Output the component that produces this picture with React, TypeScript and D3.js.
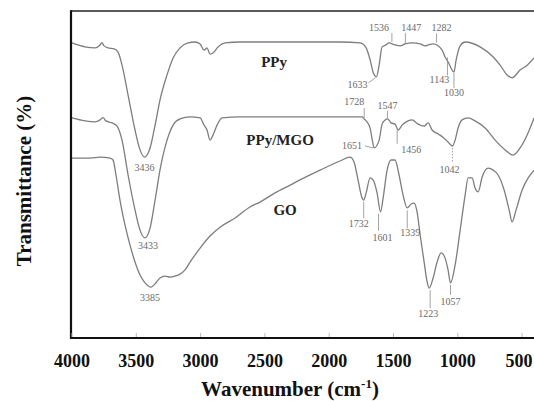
import * as d3 from "d3";

type Pt = [number, number]; // [wavenumber cm-1, transmittance (offset, a.u.)]

const ppy: Pt[] = [
  [4000, 90.5], [3899, 89.3], [3821, 89.0], [3782, 89.9], [3767, 90.6], [3751, 89.6],
  [3720, 89.0], [3673, 88.7], [3642, 87.7], [3611, 83.7], [3564, 74.5], [3510, 63.8],
  [3471, 57.7], [3436, 55.5], [3393, 58.3], [3354, 65.3], [3316, 73.0], [3261, 80.7],
  [3214, 85.9], [3160, 89.0], [3098, 90.5], [3043, 90.8], [3004, 90.2], [2973, 88.3],
  [2950, 89.0], [2927, 87.1], [2903, 87.4], [2864, 89.3], [2810, 90.5], [2693, 90.8],
  [2227, 90.8], [1916, 90.8], [1760, 90.5], [1713, 89.0], [1682, 85.3], [1659, 81.6],
  [1633, 80.1], [1612, 83.7], [1589, 89.3], [1558, 89.9], [1536, 90.5], [1488, 89.9],
  [1447, 89.6], [1410, 90.2], [1356, 90.5], [1293, 90.2], [1254, 89.6], [1230, 89.9],
  [1192, 90.2], [1122, 88.3], [1099, 86.2], [1076, 84.7], [1030, 81.6], [1013, 85.3],
  [982, 89.6], [943, 90.8], [827, 89.3], [725, 86.2], [671, 83.7], [617, 80.7],
  [578, 79.8], [516, 82.2], [461, 83.7], [407, 85.9],
];

const ppyMgo: Pt[] = [
  [4000, 67.5], [3899, 66.6], [3821, 66.3], [3782, 66.9], [3759, 67.6], [3736, 66.6],
  [3689, 66.0], [3650, 65.0], [3611, 60.7], [3564, 50.0], [3510, 39.3], [3471, 33.1],
  [3433, 30.7], [3393, 33.7], [3354, 42.3], [3316, 51.5], [3261, 60.7], [3214, 65.3],
  [3160, 67.2], [3082, 67.8], [3004, 67.5], [2973, 65.3], [2950, 63.8], [2927, 60.7],
  [2903, 62.3], [2872, 65.3], [2833, 67.5], [2693, 67.8], [2227, 67.8], [1744, 67.8],
  [1728, 67.2], [1706, 66.3], [1682, 64.4], [1665, 60.7], [1651, 58.3], [1612, 60.7],
  [1589, 65.6], [1565, 66.9], [1547, 67.2], [1519, 66.0], [1488, 65.6], [1464, 63.8],
  [1433, 65.3], [1402, 66.3], [1356, 66.9], [1309, 65.6], [1262, 65.0], [1231, 66.0],
  [1200, 63.8], [1153, 62.6], [1107, 61.3], [1076, 60.1], [1042, 58.9], [1021, 60.7],
  [998, 64.4], [967, 66.9], [920, 67.5], [866, 66.6], [788, 64.4], [710, 60.7],
  [632, 57.7], [570, 56.1], [516, 58.3], [461, 62.3], [407, 67.5],
];

const go: Pt[] = [
  [4000, 55.2], [3860, 55.2], [3782, 55.5], [3704, 55.2], [3681, 54.6], [3658, 50.0],
  [3627, 42.3], [3588, 34.7], [3549, 28.5], [3510, 23.3], [3471, 19.3], [3432, 16.9],
  [3385, 15.6], [3354, 16.6], [3316, 18.4], [3277, 19.0], [3238, 18.7], [3199, 19.0],
  [3160, 19.6], [3121, 20.9], [3082, 23.3], [3004, 27.6], [2927, 31.3], [2849, 34.0],
  [2732, 36.8], [2616, 40.2], [2538, 41.7], [2421, 44.5], [2304, 46.9], [2227, 48.5],
  [2071, 51.5], [1916, 54.3], [1838, 55.5], [1807, 54.0], [1776, 48.5], [1744, 42.9],
  [1732, 42.3], [1713, 44.5], [1682, 49.1], [1659, 48.5], [1628, 44.5], [1601, 38.7],
  [1581, 42.9], [1550, 51.5], [1519, 54.6], [1488, 54.6], [1457, 50.0], [1426, 43.9],
  [1394, 39.9], [1363, 41.1], [1340, 41.4], [1317, 38.7], [1293, 31.6], [1262, 23.3],
  [1240, 17.5], [1223, 15.3], [1192, 18.4], [1161, 23.3], [1130, 26.1], [1099, 24.5],
  [1076, 20.9], [1057, 16.9], [1021, 22.4], [982, 33.1], [943, 43.9], [920, 49.1],
  [889, 49.1], [866, 46.0], [842, 44.8], [811, 49.4], [764, 52.1], [725, 51.5],
  [687, 50.0], [640, 45.4], [601, 39.3], [578, 35.6], [547, 39.3], [500, 45.4],
  [453, 49.1], [407, 51.5],
];

const seriesList = [ppy, ppyMgo, go];
const seriesNames = ["PPy", "PPy/MGO", "GO"];
// where each name sits, in data units [wavenumber, transmittance]
const namePos: Pt[] = [[2429, 83.1], [2382, 59.2], [2343, 37.7]];

const xTicks = [4000, 3500, 3000, 2500, 2000, 1500, 1000, 500];

// peak labels: series index, wavenumber
const peaks: { s: number; w: number }[] = [
  { s: 0, w: 3436 }, { s: 0, w: 1633 }, { s: 0, w: 1536 }, { s: 0, w: 1447 },
  { s: 0, w: 1282 }, { s: 0, w: 1143 }, { s: 0, w: 1030 },
  { s: 1, w: 3433 }, { s: 1, w: 1728 }, { s: 1, w: 1547 }, { s: 1, w: 1651 },
  { s: 1, w: 1456 }, { s: 1, w: 1042 },
  { s: 2, w: 3385 }, { s: 2, w: 1732 }, { s: 2, w: 1601 }, { s: 2, w: 1339 },
  { s: 2, w: 1223 }, { s: 2, w: 1057 },
];

// label offsets from the curve point (px): dx, dy, optional leader line
const peakLayout: Record<string, { dx: number; dy: number; lead?: number[]; dash?: boolean }> = {
  "0-3436": { dx: 0, dy: 14 },
  "0-1633": { dx: -19, dy: 11, lead: [-8, 6, -1, 1] },
  "0-1536": { dx: -10, dy: -12, lead: [3, -10, 3, -1] },
  "0-1447": { dx: 11, dy: -15, lead: [5, -13, 5, -2] },
  "0-1282": { dx: 20, dy: -13, lead: [15, -11, 15, -2] },
  "0-1143": { dx: 0, dy: 35, lead: [8, 9, 8, 27] },
  "0-1030": { dx: 0, dy: 24, lead: [0, 1, 0, 16] },
  "1-3433": { dx: 3, dy: 11 },
  "1-1728": { dx: -10, dy: -14, lead: [0, -11, 0, -1] },
  "1-1547": { dx: 0, dy: -10, lead: [0, -8, 0, -1] },
  "1-1651": { dx: -22, dy: 1, lead: [-9, -2, -1, 0] },
  "1-1456": { dx: 12, dy: 24, lead: [-2, 0, -2, 15] },
  "1-1042": { dx: -3, dy: 27, lead: [0, 2, 0, 17], dash: true },
  "2-3385": { dx: -1, dy: 14 },
  "2-1732": { dx: -5, dy: 27, lead: [0, 2, 0, 18] },
  "2-1601": { dx: 2, dy: 29, lead: [-2, 2, -2, 19] },
  "2-1339": { dx: -4, dy: 33, lead: [-7, 7, -7, 25] },
  "2-1223": { dx: -1, dy: 29, lead: [1, 2, 1, 20] },
  "2-1057": { dx: 0, dy: 22, lead: [0, 2, 0, 12] },
};

const W = 534;
const H = 401;
const LEFT = 71;
const TOP = 11;
const BOTTOM = 338;

const x = d3.scaleLinear().domain([4000, 400]).range([72, 535]);
const y = d3.scaleLinear().domain([0, 100]).range([BOTTOM, 12]);

const line = d3
  .line<Pt>()
  .x((d) => x(d[0]))
  .y((d) => y(d[1]))
  .curve(d3.curveMonotoneX);

// transmittance at a wavenumber, linear between the read points
const tAt = (data: Pt[], w: number) => {
  for (let i = 0; i < data.length - 1; i++) {
    const [w0, t0] = data[i];
    const [w1, t1] = data[i + 1];
    if (w <= w0 && w >= w1) return t0 + ((w0 - w) / (w0 - w1)) * (t1 - t0);
  }
  return data[data.length - 1][1];
};

const SERIF = "'Liberation Serif', 'Times New Roman', serif";
const CURVE = "#7d7d7d";

export default function App() {
  return (
    <svg
      width={W}
      height={H}
      style={{ position: "absolute", left: 0, top: 0, background: "#fff" }}
      fontFamily={SERIF}
    >
      {/* curves */}
      {seriesList.map((data, i) => (
        <path key={i} d={line(data) || undefined} fill="none" stroke={CURVE} strokeWidth={1.3} />
      ))}

      {/* peak labels */}
      {peaks.map((p) => {
        const key = `${p.s}-${p.w}`;
        const lay = peakLayout[key];
        const px = x(p.w);
        const py = y(tAt(seriesList[p.s], p.w));
        return (
          <g key={key}>
            {lay.lead && (
              <line
                x1={px + lay.lead[0]}
                y1={py + lay.lead[1]}
                x2={px + lay.lead[2]}
                y2={py + lay.lead[3]}
                stroke="#8a8a8a"
                strokeWidth={0.8}
                strokeDasharray={lay.dash ? "1.5,1.5" : undefined}
              />
            )}
            <text x={px + lay.dx} y={py + lay.dy} textAnchor="middle" fontSize={10} fill="#6a6a6a">
              {p.w}
            </text>
          </g>
        );
      })}

      {/* series names */}
      {seriesNames.map((n, i) => (
        <text
          key={n}
          x={x(namePos[i][0])}
          y={y(namePos[i][1])}
          textAnchor="middle"
          fontSize={15}
          fontWeight="bold"
          fill="#222"
        >
          {n}
        </text>
      ))}

      {/* frame */}
      <line x1={LEFT} y1={TOP} x2={W} y2={TOP} stroke="#222" strokeWidth={1.6} />
      <line x1={LEFT} y1={TOP - 0.8} x2={LEFT} y2={BOTTOM + 1} stroke="#111" strokeWidth={2.2} />
      <line x1={LEFT} y1={BOTTOM} x2={W} y2={BOTTOM} stroke="#111" strokeWidth={2.2} />

      {/* x ticks */}
      {xTicks.map((t) => (
        <g key={t} transform={`translate(${x(t)},0)`}>
          <line y1={BOTTOM - 1} y2={BOTTOM - 5} stroke="#bbb" strokeWidth={1} />
          <text
            x={Math.min(0, W - 15 - x(t))}
            y={367}
            textAnchor="middle"
            fontSize={18}
            fontWeight="bold"
            fill="#111"
          >
            {t}
          </text>
        </g>
      ))}

      {/* axis titles */}
      <text x={290} y={396} textAnchor="middle" fontSize={21} fontWeight="bold" fill="#111">
        Wavenumber (cm
        <tspan fontSize={13} dy={-8}>-1</tspan>
        <tspan dy={8}>)</tspan>
      </text>
      <text
        transform="translate(31,181) rotate(-90)"
        textAnchor="middle"
        fontSize={21}
        fontWeight="bold"
        fill="#111"
      >
        Transmittance (%)
      </text>
    </svg>
  );
}
